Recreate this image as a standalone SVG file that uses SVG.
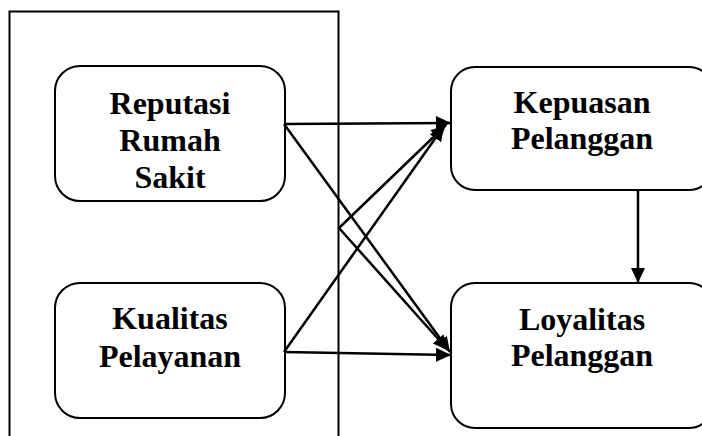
<svg xmlns="http://www.w3.org/2000/svg" width="702" height="436" viewBox="0 0 702 436">
<style>
.box{fill:#fff;stroke:#000;stroke-width:2}
.lbl{font-family:"Liberation Serif","Times New Roman",serif;font-weight:bold;font-size:32px;fill:#000;text-anchor:middle}
.con{stroke:#000;stroke-width:2.5;fill:none}
</style>
<defs>
<marker id="ah" markerUnits="userSpaceOnUse" markerWidth="16" markerHeight="16" viewBox="0 0 16 16" refX="15" refY="8" orient="auto">
<path d="M0,1 L15,8 L0,15 Z" fill="#000"/>
</marker>
</defs>
<rect width="702" height="436" fill="#fff"/>
<g id="outer">
<path d="M9.5,436 V11.5 H338.5 V436" fill="none" stroke="#000" stroke-width="2"/>
</g>
<g id="reputasi">
<rect class="box" x="55" y="66" width="230" height="135" rx="25"/>
<text class="lbl" x="170" y="114">Reputasi</text>
<text class="lbl" x="170" y="151">Rumah</text>
<text class="lbl" x="170" y="188">Sakit</text>
</g>
<g id="kualitas">
<rect class="box" x="55" y="283" width="230" height="135" rx="25"/>
<text class="lbl" x="170" y="329">Kualitas</text>
<text class="lbl" x="170" y="367">Pelayanan</text>
</g>
<g id="kepuasan">
<rect class="box" x="451" y="67" width="262" height="123" rx="24"/>
<text class="lbl" x="582" y="113">Kepuasan</text>
<text class="lbl" x="582" y="149">Pelanggan</text>
</g>
<g id="loyalitas">
<rect class="box" x="451" y="283" width="262" height="145" rx="24"/>
<text class="lbl" x="582" y="330">Loyalitas</text>
<text class="lbl" x="582" y="366">Pelanggan</text>
</g>
<g id="connectors">
<line class="con" x1="284" y1="124" x2="451" y2="123" marker-end="url(#ah)"/>
<line class="con" x1="284" y1="124" x2="450" y2="352" marker-end="url(#ah)"/>
<line class="con" x1="284" y1="352" x2="444" y2="126" marker-end="url(#ah)"/>
<line class="con" x1="284" y1="352" x2="451" y2="355" marker-end="url(#ah)"/>
<line class="con" x1="339" y1="228" x2="446" y2="125" marker-end="url(#ah)"/>
<line class="con" x1="339" y1="228" x2="448" y2="350" marker-end="url(#ah)"/>
<line class="con" x1="638" y1="190" x2="638" y2="283" marker-end="url(#ah)"/>
</g>
</svg>
